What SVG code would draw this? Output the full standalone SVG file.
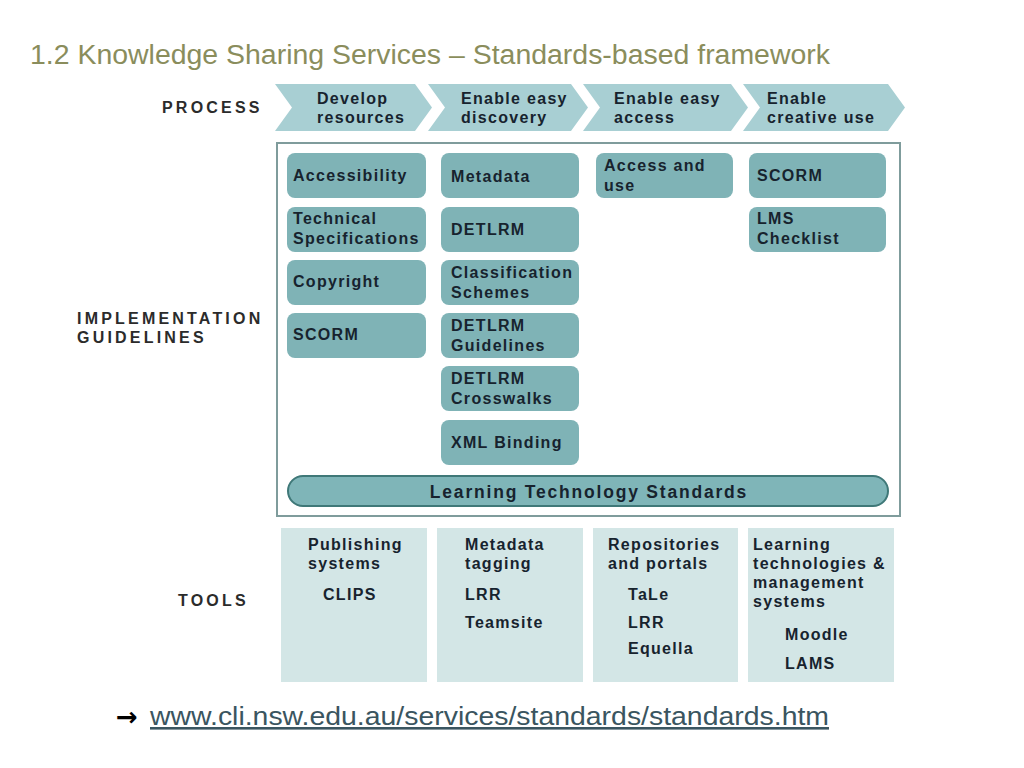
<svg xmlns="http://www.w3.org/2000/svg" width="1024" height="768" viewBox="0 0 1024 768">
<style>
.lbl{font-family:"Liberation Sans",Arial,sans-serif;font-weight:bold;font-size:16px;letter-spacing:3.2px;fill:#2b2b2b}
.t{font-family:"Liberation Sans",Arial,sans-serif;font-weight:bold;font-size:16px;letter-spacing:1.3px;fill:#17232e}
.chev{fill:#a8cfd3}
.box{fill:#7fb3b6}
.tool{fill:#d3e6e6}
</style>
<rect width="1024" height="768" fill="#ffffff"/>
<text x="30" y="64" font-family="Liberation Sans,Arial,sans-serif" font-size="27" fill="#8a8d5c" textLength="800" lengthAdjust="spacingAndGlyphs">1.2 Knowledge Sharing Services – Standards-based framework</text>

<g id="labels">
<text class="lbl" x="162" y="113">PROCESS</text>
<text class="lbl" x="77" y="324">IMPLEMENTATION</text>
<text class="lbl" x="77" y="343">GUIDELINES</text>
<text class="lbl" x="178" y="606">TOOLS</text>
</g>

<g id="process">
<g id="p1"><polygon class="chev" points="275,84 415,84 432,107.5 415,131 275,131 292,107.5"/><text class="t" x="317" y="104">Develop</text><text class="t" x="317" y="123">resources</text></g>
<g id="p2"><polygon class="chev" points="428,84 571,84 588,107.5 571,131 428,131 445,107.5"/><text class="t" x="461" y="104">Enable easy</text><text class="t" x="461" y="123">discovery</text></g>
<g id="p3"><polygon class="chev" points="583,84 731,84 748,107.5 731,131 583,131 600,107.5"/><text class="t" x="614" y="104">Enable easy</text><text class="t" x="614" y="123">access</text></g>
<g id="p4"><polygon class="chev" points="743,84 888,84 905,107.5 888,131 743,131 760,107.5"/><text class="t" x="767" y="104">Enable</text><text class="t" x="767" y="123">creative use</text></g>
</g>

<rect id="frame" x="277" y="143" width="623" height="373" fill="#ffffff" stroke="#7f9c9c" stroke-width="2"/>

<g id="guidelines">
<g id="g-access"><rect class="box" x="287" y="153" width="139" height="45" rx="8"/><text class="t" x="293" y="181">Accessibility</text></g>
<g id="g-tech"><rect class="box" x="287" y="207" width="139" height="45" rx="8"/><text class="t" x="293" y="224">Technical</text><text class="t" x="293" y="244">Specifications</text></g>
<g id="g-copy"><rect class="box" x="287" y="260" width="139" height="45" rx="8"/><text class="t" x="293" y="287">Copyright</text></g>
<g id="g-scorm1"><rect class="box" x="287" y="313" width="139" height="45" rx="8"/><text class="t" x="293" y="340">SCORM</text></g>

<g id="g-meta"><rect class="box" x="441" y="153" width="138" height="45" rx="8"/><text class="t" x="451" y="182">Metadata</text></g>
<g id="g-detlrm"><rect class="box" x="441" y="207" width="138" height="45" rx="8"/><text class="t" x="451" y="235">DETLRM</text></g>
<g id="g-class"><rect class="box" x="441" y="260" width="138" height="45" rx="8"/><text class="t" x="451" y="278">Classification</text><text class="t" x="451" y="298">Schemes</text></g>
<g id="g-guide"><rect class="box" x="441" y="313" width="138" height="45" rx="8"/><text class="t" x="451" y="331">DETLRM</text><text class="t" x="451" y="351">Guidelines</text></g>
<g id="g-cross"><rect class="box" x="441" y="366" width="138" height="45" rx="8"/><text class="t" x="451" y="384">DETLRM</text><text class="t" x="451" y="404">Crosswalks</text></g>
<g id="g-xml"><rect class="box" x="441" y="420" width="138" height="45" rx="8"/><text class="t" x="451" y="448">XML Binding</text></g>

<g id="g-accuse"><rect class="box" x="596" y="153" width="137" height="45" rx="8"/><text class="t" x="604" y="171">Access and</text><text class="t" x="604" y="191">use</text></g>

<g id="g-scorm2"><rect class="box" x="749" y="153" width="137" height="45" rx="8"/><text class="t" x="757" y="181">SCORM</text></g>
<g id="g-lms"><rect class="box" x="749" y="207" width="137" height="45" rx="8"/><text class="t" x="757" y="224">LMS</text><text class="t" x="757" y="244">Checklist</text></g>

<g id="g-lts"><rect x="288" y="476" width="600" height="30" rx="15" fill="#7fb5b8" stroke="#3f7878" stroke-width="2"/><text class="t" x="589" y="498" text-anchor="middle" style="font-size:17.5px;letter-spacing:1.8px">Learning Technology Standards</text></g>
</g>

<g id="tools">
<g id="t1"><rect class="tool" x="281" y="528" width="146" height="154"/><text class="t" x="308" y="550">Publishing</text><text class="t" x="308" y="569">systems</text><text class="t" x="323" y="600">CLIPS</text></g>
<g id="t2"><rect class="tool" x="437" y="528" width="146" height="154"/><text class="t" x="465" y="550">Metadata</text><text class="t" x="465" y="569">tagging</text><text class="t" x="465" y="600">LRR</text><text class="t" x="465" y="628">Teamsite</text></g>
<g id="t3"><rect class="tool" x="593" y="528" width="145" height="154"/><text class="t" x="608" y="550">Repositories</text><text class="t" x="608" y="569">and portals</text><text class="t" x="628" y="600">TaLe</text><text class="t" x="628" y="628">LRR</text><text class="t" x="628" y="654">Equella</text></g>
<g id="t4"><rect class="tool" x="748" y="528" width="146" height="154"/><text class="t" x="753" y="550">Learning</text><text class="t" x="753" y="569">technologies &amp;</text><text class="t" x="753" y="588">management</text><text class="t" x="753" y="607">systems</text><text class="t" x="785" y="640">Moodle</text><text class="t" x="785" y="669">LAMS</text></g>
</g>

<g id="link">
<text x="116" y="726" font-family="DejaVu Sans,sans-serif" font-size="26" font-weight="bold" fill="#000000">→</text>
<text x="150" y="725" font-family="Liberation Sans,Arial,sans-serif" font-size="26" fill="#3a5560" text-decoration="underline" textLength="679" lengthAdjust="spacingAndGlyphs">www.cli.nsw.edu.au/services/standards/standards.htm</text>
</g>
</svg>
